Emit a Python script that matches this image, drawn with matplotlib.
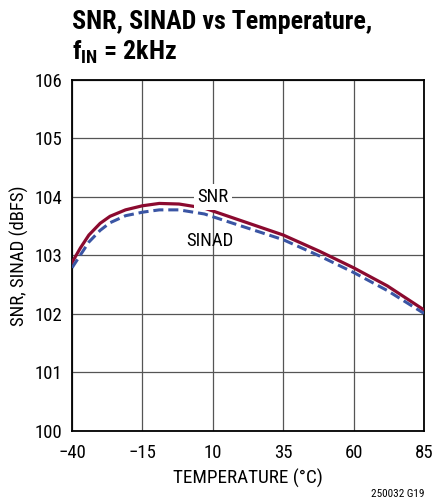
import matplotlib
matplotlib.use("Agg")
import matplotlib.pyplot as plt
from matplotlib import font_manager as fm

# ---- data ----
temps = [-40, -37, -34, -30, -26.5, -21, -15, -9, -2, 7, 21, 35, 48, 60, 72, 85]
snr = [102.88, 103.13, 103.35, 103.55, 103.67, 103.78, 103.85, 103.89, 103.88, 103.81,
       103.58, 103.35, 103.07, 102.79, 102.48, 102.07]
sinad = [102.79, 103.01, 103.23, 103.43, 103.56, 103.68, 103.74, 103.78, 103.78, 103.71,
         103.49, 103.27, 102.99, 102.71, 102.40, 102.01]

xticks = [-40, -15, 10, 35, 60, 85]
xticklabels = ["\u221240", "\u221215", "10", "35", "60", "85"]
yticks = [100, 101, 102, 103, 104, 105, 106]

# ---- font choice: prefer a condensed sans ----
cands = []
for f in fm.fontManager.ttflist:
    st = str(f.stretch).lower()
    if "ondensed" in f.name or "arrow" in f.name or st in ("condensed", "semi-condensed", "extra-condensed"):
        cands.append(f)
prio = ["Roboto Condensed", "Liberation Sans Narrow", "Open Sans Condensed", "Noto Sans Condensed",
        "DejaVu Sans Condensed"]
cond_family, cond_stretch = "DejaVu Sans", "normal"
found = False
for p in prio:
    for f in cands:
        if f.name == p:
            cond_family, cond_stretch = f.name, f.stretch
            found = True
            break
    if found:
        break
if not found and cands:
    cond_family, cond_stretch = cands[0].name, cands[0].stretch

plt.rcParams["mathtext.fontset"] = "custom"
plt.rcParams["mathtext.rm"] = cond_family
plt.rcParams["mathtext.bf"] = cond_family + ":bold"

fp = dict(fontfamily=cond_family, fontstretch=cond_stretch)

fig = plt.figure(figsize=(4.34, 5.04), dpi=100)
ax = fig.add_axes([72/434, 1 - 431/504, 352/434, 351/504])

ax.plot(temps, snr, color="#8b0a2f", lw=2.3, zorder=3, solid_joinstyle="round")
ax.plot(temps, sinad, color="#3a55a4", lw=2.2, ls=(0, (3.3, 1.6)), zorder=3)

ax.set_xlim(-40, 85)
ax.set_ylim(100, 106)
ax.set_xticks(xticks)
ax.set_xticklabels(xticklabels)
ax.set_yticks(yticks)
ax.grid(True, color="#555555", lw=0.9)
ax.tick_params(length=0, labelsize=13.5)
ax.tick_params(axis="x", pad=9)
ax.tick_params(axis="y", pad=7)
for lab in ax.get_xticklabels() + ax.get_yticklabels():
    lab.set_fontfamily(cond_family)
    lab.set_fontstretch(cond_stretch)
for s in ax.spines.values():
    s.set_linewidth(1.3)
ax.set_xlabel("TEMPERATURE (\u00b0C)", fontsize=13.8, labelpad=5, **fp)
ax.set_ylabel("SNR, SINAD (dBFS)", fontsize=13.5, labelpad=4, **fp)

ax.text(10, 104, "SNR", fontsize=13.5, ha="center", va="center",
        bbox=dict(facecolor="white", edgecolor="none", pad=2.5), zorder=4, **fp)
ax.text(9, 103.25, "SINAD", fontsize=13.5, ha="center", va="center", zorder=4, **fp)

t1 = fig.text(72/434, 1 - 22/504, "SNR, SINAD vs Temperature,", fontsize=20, fontweight="bold",
              ha="left", va="center", **fp)
t2 = fig.text(72/434, 1 - 52/504, r"f$_{\mathbf{IN}}$ = 2kHz", fontsize=20, fontweight="bold",
              ha="left", va="center", **fp)
fig.text(424/434, 1 - 494/504, "250032 G19", fontsize=8, ha="right", va="center", **fp)

# fit title width to the reference (~298 px)
r = fig.canvas.get_renderer()
w = t1.get_window_extent(r).width
if w > 300:
    size = 20 * 300 / w
    t1.set_fontsize(size)
    t2.set_fontsize(size)

fig.savefig("out.png", dpi=100)
